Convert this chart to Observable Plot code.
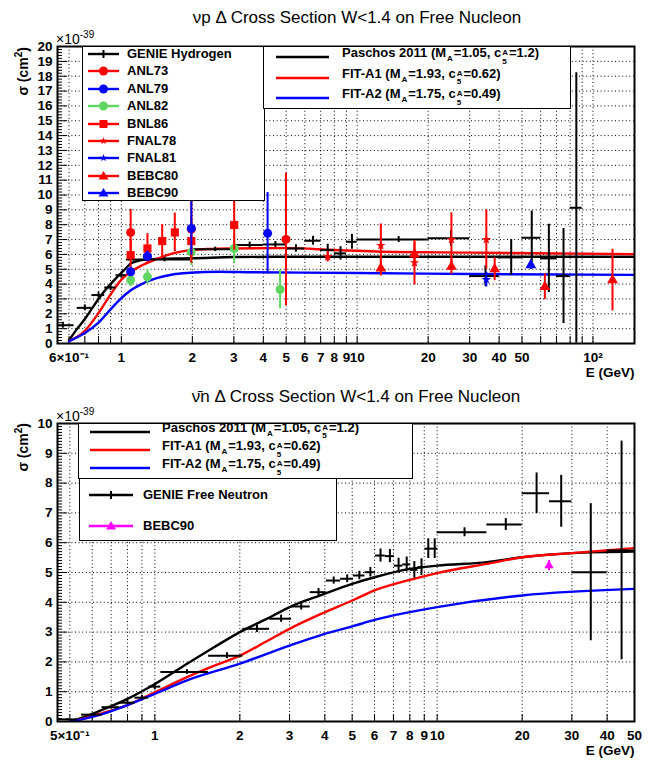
<!DOCTYPE html>
<html><head><meta charset="utf-8">
<script src="https://cdn.jsdelivr.net/npm/d3@7"></script>
<script src="https://cdn.jsdelivr.net/npm/@observablehq/plot@0.6"></script>
<style>
body{margin:0;background:#fff;}
#wrap{position:relative;width:651px;height:762px;overflow:hidden;font-family:"Liberation Sans",Arial,Helvetica,sans-serif;color:#000;}
#wrap svg.plot{position:absolute;left:0;}
.title{position:absolute;font-size:17px;white-space:nowrap;transform:translate(-50%,-50%);}
.leg{position:absolute;background:#fff;border:1.5px solid #000;box-sizing:border-box;}
.ent{position:absolute;left:0;height:16px;display:flex;align-items:center;font-weight:bold;font-size:13px;line-height:14px;white-space:nowrap;transform:translateY(-50%);}
.ent svg{position:absolute;top:-1px;}
.sub{font-size:8px;position:relative;top:4px;margin:0 1px;line-height:8px;}
.ss{display:inline-flex;flex-direction:column;font-size:8px;line-height:8.5px;position:relative;top:-2px;margin:0 1px;}
.ylab{position:absolute;font-weight:bold;font-size:14px;white-space:nowrap;transform-origin:0 0;transform:rotate(-90deg) translate(-100%,-50%);}
.exp{position:absolute;font-size:14px;white-space:nowrap;}
.exp sup{font-size:10px;}
</style></head>
<body><div id="wrap"></div>
<script>
// ---------------- TOP PANEL DATA (nu p) ----------------
const topPaschosE = [0.6,0.65,0.7,0.75,0.8,0.85,0.9,0.95,1.0,1.05,1.1,1.2,1.4,1.7,2,3,5,10,20,50,150];
const topPaschosY = [0.22,1.0,1.65,2.35,3.0,3.55,4.0,4.4,4.75,5.1,5.4,5.6,5.7,5.72,5.74,5.82,5.84,5.84,5.84,5.84,5.84];
const topFitA1E = [0.6,0.7,0.8,0.9,1.0,1.1,1.2,1.4,1.65,1.95,2.3,3,5,8,12,30,150];
const topFitA1Y = [0.15,0.85,2.05,3.3,4.3,4.85,5.2,5.66,6.07,6.29,6.36,6.4,6.42,6.3,6.2,6.12,6.02];
const topFitA2E = [0.6,0.7,0.8,0.9,1.0,1.1,1.2,1.4,1.65,1.95,2.6,3.5,10,30,150];
const topFitA2Y = [0.15,0.7,1.4,2.3,3.05,3.6,3.95,4.38,4.65,4.76,4.83,4.8,4.75,4.68,4.62];

const genieHLo  = [0.5,0.65,0.75,0.85,0.95,1.05,2,3,4,5,6,7,8,9,10,20,30,40,50,60,70,80];
const genieHHi  = [0.63,0.75,0.85,0.95,1.05,2,3,4,5,6,7,8,9,10,20,30,40,50,60,70,80,90];
const genieHY   = [1.23,2.4,3.26,3.77,4.6,5.65,6.34,6.63,6.67,6.4,6.92,6.29,6.07,6.85,7.0,7.08,4.54,5.8,7.12,5.73,4.54,9.14];
const genieHErr = [0.2,0.2,0.2,0.2,0.2,0.15,0.15,0.2,0.2,0.25,0.3,0.4,0.45,0.5,0.2,0.55,0.7,1.2,1.8,2.3,3.2,9.1];

const anl73E = [1.095,1.98,4.99],  anl73Y = [7.48,7.7,7.01],  anl73Err = [1.55,1.95,4.45];
const anl79E = [1.095,1.29,1.98,4.17], anl79Y = [4.83,5.87,7.75,7.42], anl79Err = [0.3,0.35,1.8,2.75];
const anl82E = [1.095,1.29,1.98,3.01,4.71], anl82Y = [4.27,4.49,6.15,6.4,3.64], anl82Err = [0.45,0.5,0.9,1.0,1.3];
const bnl86E = [1.095,1.29,1.49,1.685,1.98,3.01], bnl86Y = [5.95,6.4,6.9,7.48,6.9,7.98], bnl86Err = [1.0,1.0,1.1,1.3,1.5,1.7];
const fnal78E = [7.5,12.6,17.5,25.1,35.3], fnal78Y = [5.84,6.6,5.44,7.0,7.0], fnal78Err = [0.35,1.45,1.5,1.8,2.0];
const fnal81E = [35.3], fnal81Y = [4.3], fnal81Err = [0.5];
const bebc80E = [12.6,17.5,25.1,38.3,62.5,121], bebc80Y = [5.05,6.0,5.17,5.0,3.82,4.27], bebc80Err = [0.5,0.8,0.5,0.77,0.87,2.08];
const bebc90E = [54.5], bebc90Y = [5.28], bebc90Err = [0.3];

const topXGrid = [0.6,0.7,0.8,0.9,1,2,3,4,5,6,7,8,9,10,20,30,40,50,60,70,80,90,100];
const topXLabelVals = [0.6,1,2,3,4,5,6,7,8,9,10,20,30,40,50,100];
const topXLabelText = ["6×10⁻¹","1","2","3","4","5","6","7","8","9","10","20","30","40","50","10²"];
const topYTicks = d3.range(0,21);

// ---------------- BOTTOM PANEL DATA (nubar n) ----------------
const botPaschosE = [0.5,0.55,0.643,0.8,1.0,1.3,1.62,2.0,2.5,3.0,3.9,5,6,8,10,15,20,30,50];
const botPaschosY = [0,0.12,0.37,0.76,1.26,1.94,2.49,3.0,3.45,3.84,4.25,4.62,4.84,5.12,5.23,5.35,5.51,5.65,5.7];
const botFitA1E = [0.5,0.55,0.643,0.8,1.0,1.3,1.6,2.0,2.5,3.0,3.9,5,6,8,10,15,20,30,50];
const botFitA1Y = [0,0.08,0.26,0.55,0.98,1.49,1.85,2.21,2.7,3.11,3.62,4.06,4.4,4.75,4.98,5.29,5.51,5.65,5.82];
const botFitA2E = [0.5,0.55,0.643,0.8,1.0,1.3,2.0,3.0,3.9,5,6,8,10,20,50];
const botFitA2Y = [0,0.07,0.23,0.55,0.93,1.38,1.94,2.55,2.91,3.19,3.41,3.67,3.84,4.23,4.45];

const genieNLo  = [0.45,0.55,0.65,0.75,0.85,0.95,1.05,1.55,2.05,2.55,3.05,3.55,4.05,4.55,5.05,5.55,6.05,6.55,7.05,7.55,8.05,8.55,9.05,9.55,10,15,20,25,30,40];
const genieNHi  = [0.53,0.65,0.75,0.85,0.95,1.05,1.55,2.05,2.55,3.05,3.55,4.05,4.55,5.05,5.55,6.05,6.55,7.05,7.55,8.05,8.55,9.05,9.55,10.05,15,20,25,30,40,50];
const genieNY   = [0.07,0.23,0.48,0.63,0.8,1.17,1.66,2.21,3.11,3.45,3.86,4.34,4.73,4.79,4.9,5.01,5.57,5.55,5.23,5.27,5.09,5.18,5.8,5.8,6.35,6.61,7.66,7.39,5.01,5.74];
const genieNErr = [0.03,0.05,0.06,0.07,0.08,0.1,0.08,0.1,0.12,0.12,0.12,0.12,0.12,0.13,0.14,0.16,0.22,0.22,0.25,0.25,0.28,0.28,0.33,0.33,0.15,0.2,0.68,0.87,2.3,3.67];
const bebc90nE = [24.9], bebc90nY = [5.23], bebc90nErr = [0.17];

const botXGrid = [0.5,0.6,0.7,0.8,0.9,1,2,3,4,5,6,7,8,9,10,20,30,40,50];
const botXLabelVals = [0.5,1,2,3,4,5,6,7,8,9,10,20,30,40,50];
const botXLabelText = ["5×10⁻¹","1","2","3","4","5","6","7","8","9","10","20","30","40","50"];
const botYTicks = d3.range(0,11);

// ---------------- TEXT ----------------
const titleTop = "νp Δ Cross Section W<1.4 on Free Nucleon";
const titleBot = "ν\u0304n Δ Cross Section W<1.4 on Free Nucleon";
const xTitle = "E (GeV)";
const topLegNames = ["GENIE Hydrogen","ANL73","ANL79","ANL82","BNL86","FNAL78","FNAL81","BEBC80","BEBC90"];
const modelNames = ["Paschos 2011","FIT-A1","FIT-A2"];
const modelMA = ["1.05","1.93","1.75"];
const modelC5 = ["1.2","0.62","0.49"];
const botLegNames = ["GENIE Free Neutron","BEBC90"];

// ---------------- HELPERS ----------------
const RED="#ff0000", BLUE="#0000ff", GREEN="#5fd65f", MAG="#ff00ff";
const zip = (X,Y) => X.map((x,i)=>({x, y:Y[i]}));
const pts = (X,Y,E) => X.map((x,i)=>({x, y:Y[i], lo:Y[i]-E[i], hi:Y[i]+E[i]}));
const bins = (L,H,Y,E) => L.map((l,i)=>({lo:l, hi:H[i], x:(l+H[i])/2, y:Y[i], ylo:Y[i]-E[i], yhi:Y[i]+E[i]}));
const series = (d, color, symbol, r) => [
  Plot.ruleX(d, {x:"x", y1:"lo", y2:"hi", stroke:color, strokeWidth:2, clip:true}),
  Plot.dot(d, {x:"x", y:"y", fill:color, symbol, r})
];
const curve = (d, color) => Plot.line(d, {x:"x", y:"y", stroke:color, strokeWidth:2.4, curve:"monotone-x", clip:true});
const gridStyle = {stroke:"#000", strokeOpacity:1, strokeWidth:1, strokeDasharray:"1,2.6"};

function panel({height, mt, mb, xdom, ydom, xGrid, xLabVals, xLabText, yTicks, minorStep, marks}) {
  const ML=57, MR=17, W=651;
  const FW = W-ML-MR, FH = height-mt-mb;
  const labs = xLabVals.map((v,i)=>({v, t:xLabText[i]}));
  const minor = d3.range(ydom[0], ydom[1]+1e-9, minorStep).filter(v => Math.abs(v-Math.round(v))>1e-6);
  return Plot.plot({
    width: W, height, marginTop: mt, marginBottom: mb, marginLeft: ML, marginRight: MR,
    x: {type:"log", domain: xdom, axis: null},
    y: {domain: ydom, axis: null},
    style: {fontFamily:"'Liberation Sans', Arial, sans-serif", fontSize:"13.5px", fontWeight:"bold", background:"transparent", overflow:"visible"},
    marks: [
      Plot.gridX(xGrid, {x:d=>d, ...gridStyle}),
      Plot.gridY(yTicks.slice(1,-1), {y:d=>d, ...gridStyle}),
      Plot.tickX(xGrid, {x:d=>d, insetTop: FH-7, stroke:"#000", strokeWidth:1}),
      Plot.tickY(minor, {y:d=>d, insetRight: FW-5, stroke:"#000", strokeWidth:1}),
      Plot.tickY(yTicks, {y:d=>d, insetRight: FW-10, stroke:"#000", strokeWidth:1}),
      ...marks,
      Plot.frame({stroke:"#000", strokeWidth:2}),
      Plot.text(labs, {x:"v", text:"t", frameAnchor:"bottom", dy: 14, lineAnchor:"middle"}),
      Plot.text(yTicks, {y:d=>d, text:d=>String(d), frameAnchor:"left", dx:-5, textAnchor:"end"}),
      Plot.text([xTitle], {frameAnchor:"bottom-right", dy: 33, textAnchor:"end", text:d=>d})
    ]
  });
}

// ---------------- BUILD ----------------
const wrap = document.getElementById("wrap");

const topMarks = [
  curve(zip(topPaschosE, topPaschosY), "#000"),
  curve(zip(topFitA1E, topFitA1Y), RED),
  curve(zip(topFitA2E, topFitA2Y), BLUE),
  Plot.ruleY(bins(genieHLo,genieHHi,genieHY,genieHErr), {y:"y", x1:"lo", x2:"hi", stroke:"#000", strokeWidth:2, clip:true}),
  Plot.ruleX(bins(genieHLo,genieHHi,genieHY,genieHErr), {x:"x", y1:"ylo", y2:"yhi", stroke:"#000", strokeWidth:2, clip:true}),
  ...series(pts(anl82E,anl82Y,anl82Err), GREEN, "circle", 4.5),
  ...series(pts(anl73E,anl73Y,anl73Err), RED, "circle", 4.5),
  ...series(pts(bnl86E,bnl86Y,bnl86Err), RED, "square", 4.6),
  ...series(pts(anl79E,anl79Y,anl79Err), BLUE, "circle", 4.5),
  ...series(pts(fnal78E,fnal78Y,fnal78Err), RED, "star", 3),
  ...series(pts(fnal81E,fnal81Y,fnal81Err), BLUE, "star", 3),
  ...series(pts(bebc80E,bebc80Y,bebc80Err), RED, "triangle", 4),
  ...series(pts(bebc90E,bebc90Y,bebc90Err), BLUE, "triangle", 4)
];
const topSvg = panel({height:385, mt:46, mb:42, xdom:[0.536,150], ydom:[0,20], xGrid:topXGrid,
  xLabVals:topXLabelVals, xLabText:topXLabelText, yTicks:topYTicks, minorStep:0.2, marks:topMarks});
topSvg.classList.add("plot"); topSvg.style.top = "0px";
wrap.appendChild(topSvg);

const botMarks = [
  curve(zip(botPaschosE, botPaschosY), "#000"),
  curve(zip(botFitA1E, botFitA1Y), RED),
  curve(zip(botFitA2E, botFitA2Y), BLUE),
  Plot.ruleY(bins(genieNLo,genieNHi,genieNY,genieNErr), {y:"y", x1:"lo", x2:"hi", stroke:"#000", strokeWidth:2, clip:true}),
  Plot.ruleX(bins(genieNLo,genieNHi,genieNY,genieNErr), {x:"x", y1:"ylo", y2:"yhi", stroke:"#000", strokeWidth:2, clip:true}),
  ...series(pts(bebc90nE,bebc90nY,bebc90nErr), MAG, "triangle", 3.5)
];
const botSvg = panel({height:377, mt:38, mb:41, xdom:[0.452,50], ydom:[0,10], xGrid:botXGrid,
  xLabVals:botXLabelVals, xLabText:botXLabelText, yTicks:botYTicks, minorStep:0.1, marks:botMarks});
botSvg.classList.add("plot"); botSvg.style.top = "385px";
wrap.appendChild(botSvg);

// ---------------- OVERLAYS ----------------
function el(tag, cls, style, html) {
  const e = document.createElement(tag);
  if (cls) e.className = cls;
  Object.assign(e.style, style);
  if (html !== undefined) e.innerHTML = html;
  return e;
}
function add(parent, e) { parent.appendChild(e); return e; }
const esc = s => s.replace(/&/g,"&amp;").replace(/</g,"&lt;");

add(wrap, el("div","title",{left:"357px", top:"18px"}, esc(titleTop)));
add(wrap, el("div","title",{left:"356px", top:"397px"}, esc(titleBot)));
add(wrap, el("div","ylab",{left:"22px", top:"47px"}, "σ (cm<sup style='font-size:10px'>2</sup>)"));
add(wrap, el("div","ylab",{left:"22px", top:"423px"}, "σ (cm<sup style='font-size:10px'>2</sup>)"));
add(wrap, el("div","exp",{left:"56px", top:"29px"}, "×10<sup>-39</sup>"));
add(wrap, el("div","exp",{left:"56px", top:"406px"}, "×10<sup>-39</sup>"));

function marker(symbol, color, cx, cy) {
  if (symbol === "circle") return `<circle cx="${cx}" cy="${cy}" r="4.5" fill="${color}"/>`;
  if (symbol === "square") return `<rect x="${cx-4}" y="${cy-4}" width="8" height="8" fill="${color}"/>`;
  if (symbol === "triangle") return `<path d="M${cx},${cy-5}L${cx+5},${cy+3.5}L${cx-5},${cy+3.5}Z" fill="${color}"/>`;
  if (symbol === "star") {
    let p = "";
    for (let k=0;k<10;k++){ const r = k%2?1.6:4, a = -Math.PI/2 + k*Math.PI/5; p += (k?"L":"M")+(cx+r*Math.cos(a)).toFixed(2)+","+(cy+r*Math.sin(a)).toFixed(2); }
    return `<path d="${p}Z" fill="${color}"/>`;
  }
  if (symbol === "cross") return `<line x1="${cx}" y1="${cy-4}" x2="${cx}" y2="${cy+4}" stroke="${color}" stroke-width="2"/>`;
  return "";
}
function entry(box, y, x1, x2, color, symbol, textLeft, html, lw) {
  const svg = `<svg width="${x2+6}" height="18" style="left:0"><line x1="${x1}" y1="9" x2="${x2}" y2="9" stroke="${color}" stroke-width="${lw||2.4}"/>${symbol?marker(symbol,color,(x1+x2)/2,9):""}</svg>`;
  const e = el("div","ent",{top:y+"px", width:"100%"}, svg + `<span style="position:absolute;left:${textLeft}px">${html}</span>`);
  box.appendChild(e);
}
const modelHTML = i => `${esc(modelNames[i])} (M<span class="sub">A</span>=${modelMA[i]}, c<span class="ss"><span>A</span><span>5</span></span>=${modelC5[i]})`;

// top legend 1
const L1 = add(wrap, el("div","leg",{left:"82px", top:"46px", width:"183px", height:"155px"}));
const l1Colors = ["#000",RED,BLUE,GREEN,RED,RED,BLUE,RED,BLUE];
const l1Syms = ["cross","circle","circle","circle","square","star","star","triangle","triangle"];
topLegNames.forEach((n,i)=> entry(L1, 7 + 17.4*i, 5, 36, l1Colors[i], l1Syms[i], 44, esc(n), 2.4));

// top legend 2
const L2 = add(wrap, el("div","leg",{left:"263px", top:"46px", width:"308px", height:"63px"}));
[10, 30.5, 51].forEach((y,i)=> entry(L2, y, 12, 65, ["#000",RED,BLUE][i], null, 78, modelHTML(i), 2.5));

// bottom legend 1
const B1 = add(wrap, el("div","leg",{left:"78px", top:"423px", width:"335px", height:"56px"}));
[7.5, 26, 44].forEach((y,i)=> entry(B1, y, 11, 71, ["#000",RED,BLUE][i], null, 83, modelHTML(i), 2.5));

// bottom legend 2
const B2 = add(wrap, el("div","leg",{left:"79px", top:"478px", width:"258px", height:"63px"}));
entry(B2, 16, 9, 53, "#000", "cross", 63, esc(botLegNames[0]), 2.4);
entry(B2, 47, 9, 53, MAG, "triangle", 63, esc(botLegNames[1]), 2.4);
</script></body></html>
